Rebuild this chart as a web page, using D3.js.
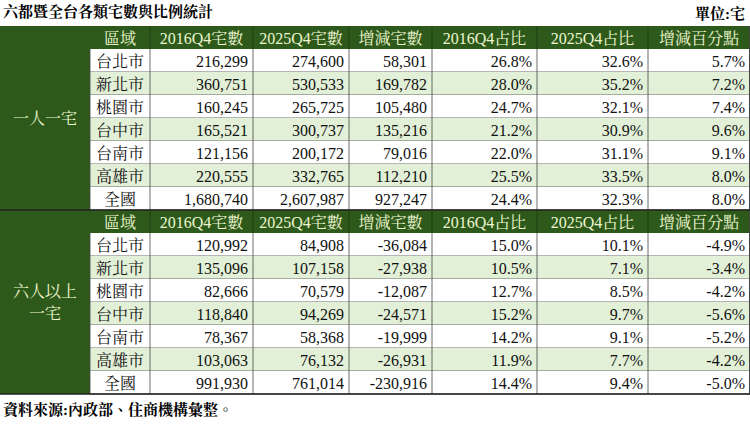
<!DOCTYPE html>
<html><head><meta charset="utf-8">
<script src="https://cdn.jsdelivr.net/npm/d3@7"></script>
<style>body{margin:0;background:#fff}</style>
</head><body><svg id="c" width="750" height="426"></svg>
<script>
const headers = ["區域","2016Q4宅數","2025Q4宅數","增減宅數","2016Q4占比","2025Q4占比","增減百分點"];
const regions = ["台北市","新北市","桃園市","台中市","台南市","高雄市","全國"];
const single2016 = ["216,299","360,751","160,245","165,521","121,156","220,555","1,680,740"];
const single2025 = ["274,600","530,533","265,725","300,737","200,172","332,765","2,607,987"];
const singleDiff = ["58,301","169,782","105,480","135,216","79,016","112,210","927,247"];
const singleS16 = ["26.8%","28.0%","24.7%","21.2%","22.0%","25.5%","24.4%"];
const singleS25 = ["32.6%","35.2%","32.1%","30.9%","31.1%","33.5%","32.3%"];
const singlePt = ["5.7%","7.2%","7.4%","9.6%","9.1%","8.0%","8.0%"];
const six2016 = ["120,992","135,096","82,666","118,840","78,367","103,063","991,930"];
const six2025 = ["84,908","107,158","70,579","94,269","58,368","76,132","761,014"];
const sixDiff = ["-36,084","-27,938","-12,087","-24,571","-19,999","-26,931","-230,916"];
const sixS16 = ["15.0%","10.5%","12.7%","15.2%","14.2%","11.9%","14.4%"];
const sixS25 = ["10.1%","7.1%","8.5%","9.7%","9.1%","7.7%","9.4%"];
const sixPt = ["-4.9%","-3.4%","-4.2%","-5.6%","-5.2%","-4.2%","-5.0%"];
const groups = [
  {label:["一人一宅"], cols:[regions,single2016,single2025,singleDiff,singleS16,singleS25,singlePt]},
  {label:["六人以上","一宅"], cols:[regions,six2016,six2025,sixDiff,sixS16,sixS25,sixPt]}
];
const colEdges = [0,90,150,253,349,432,537,648,750];
const font = "'Liberation Serif','Noto Serif CJK TC','Noto Sans CJK TC',serif";
const dark = "#2d5a1b", light = "#e3f0d8", headTxt = "#eef6d0";
const tableTop = 26, rowH = 23;
const svg = d3.select("#c");
svg.append("text").attr("x",3).attr("y",17).attr("font-family",font).attr("font-size",15).attr("font-weight","bold").text("六都暨全台各類宅數與比例統計");
svg.append("text").attr("x",745).attr("y",19).attr("text-anchor","end").attr("font-family",font).attr("font-size",15).attr("font-weight","bold").text("單位:宅");
const y = d3.scaleLinear().domain([0,16]).range([tableTop, tableTop+16*rowH]);
groups.forEach((g,gi)=>{
  const r0 = gi*8;
  svg.append("rect").attr("x",0).attr("y",y(r0)).attr("width",colEdges[1]).attr("height",y(r0+8)-y(r0)).attr("fill",dark);
  const cy = (y(r0)+y(r0+8))/2;
  g.label.forEach((l,li)=>{
    svg.append("text").attr("x",colEdges[1]/2).attr("y",cy+(li-(g.label.length-1)/2)*22+6).attr("text-anchor","middle")
      .attr("font-family",font).attr("font-size",16).attr("fill",headTxt).text(l);
  });
  svg.append("rect").attr("x",colEdges[1]).attr("y",y(r0)).attr("width",750-colEdges[1]).attr("height",rowH).attr("fill",dark);
  headers.forEach((h,ci)=>{
    svg.append("text").attr("x",(colEdges[ci+1]+colEdges[ci+2])/2).attr("y",y(r0)+rowH/2+6).attr("text-anchor","middle")
      .attr("font-family",font).attr("font-size",16).attr("fill",headTxt).text(h);
  });
  regions.forEach((_,ri)=>{
    const yy = y(r0+1+ri);
    svg.append("rect").attr("x",colEdges[1]).attr("y",yy).attr("width",750-colEdges[1]).attr("height",rowH)
      .attr("fill", ri%2 ? light : "#fff");
    g.cols.forEach((col,ci)=>{
      const x0 = colEdges[ci+1], x1 = colEdges[ci+2];
      svg.append("text").attr("x", ci===0 ? (x0+x1)/2 : x1-5).attr("y",yy+rowH/2+6)
        .attr("text-anchor", ci===0 ? "middle" : "end").attr("font-family",font).attr("font-size",16).attr("fill","#111").text(col[ri]);
      svg.append("line").attr("x1",x0).attr("x2",x0).attr("y1",yy).attr("y2",yy+rowH).attr("stroke","#444").attr("stroke-width",0.8);
    });
    svg.append("line").attr("x1",colEdges[1]).attr("x2",750).attr("y1",yy+rowH).attr("y2",yy+rowH).attr("stroke","#444").attr("stroke-width",0.8);
  });
  colEdges.slice(2,8).forEach(x=>svg.append("line").attr("x1",x).attr("x2",x).attr("y1",y(r0)).attr("y2",y(r0)+rowH).attr("stroke","#1e3d12").attr("stroke-width",1));
  svg.append("line").attr("x1",749.5).attr("x2",749.5).attr("y1",y(r0)).attr("y2",y(r0+8)).attr("stroke","#444");
});
svg.append("line").attr("x1",0).attr("x2",750).attr("y1",y(8)).attr("y2",y(8)).attr("stroke","#222").attr("stroke-width",1.5);
svg.append("line").attr("x1",0).attr("x2",750).attr("y1",y(16)).attr("y2",y(16)).attr("stroke","#222").attr("stroke-width",1.5);
svg.append("text").attr("x",3).attr("y",y(16)+21).attr("font-family",font).attr("font-size",15).attr("font-weight","bold").text("資料來源:內政部、住商機構彙整。");
</script></body></html>
